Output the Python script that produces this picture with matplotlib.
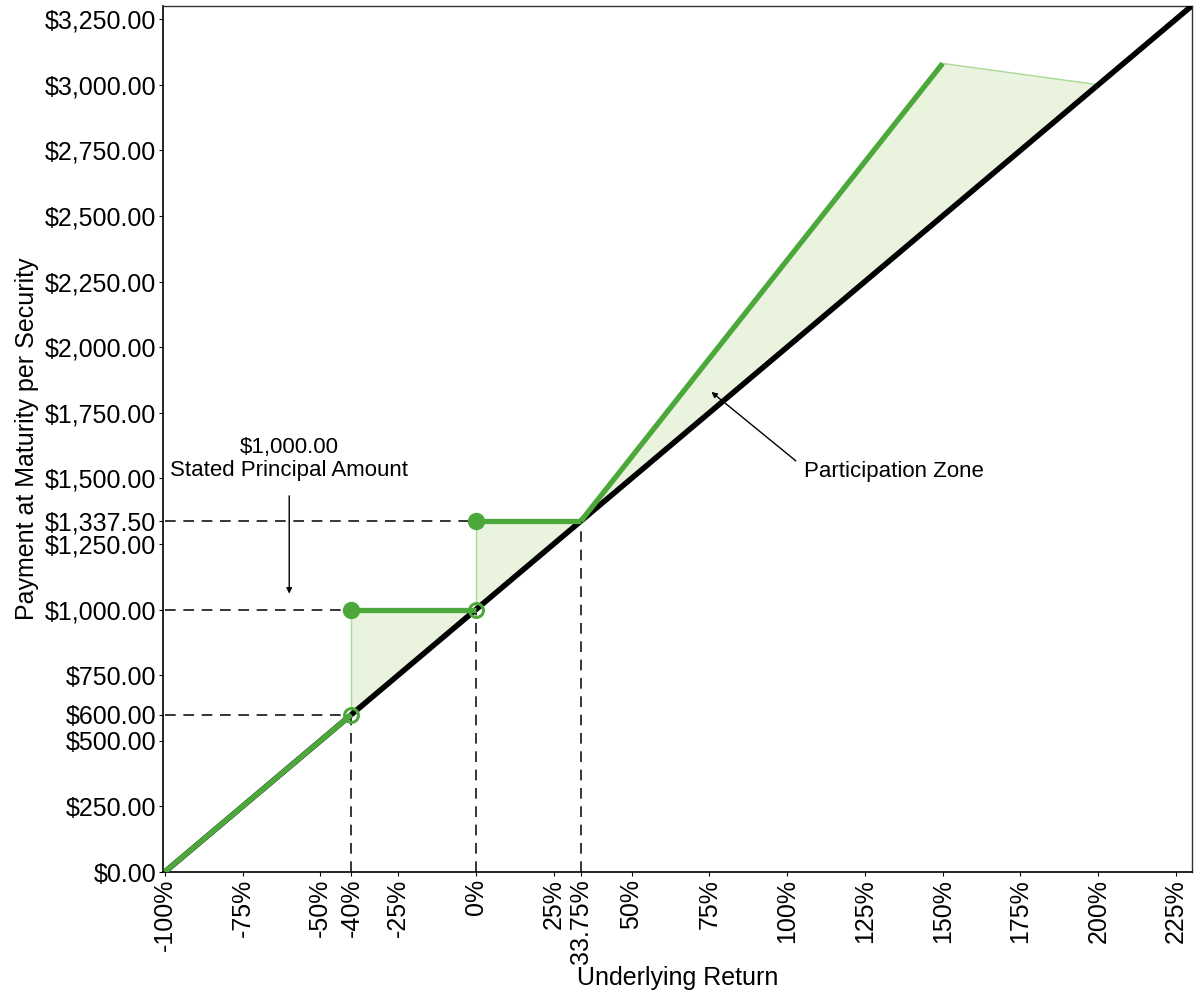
import matplotlib
matplotlib.use("Agg")
import matplotlib.pyplot as plt
from matplotlib.patches import Polygon

plt.rcParams['font.family'] = ['Liberation Sans', 'DejaVu Sans']

# ---- data ----
x_ticks = [-100, -75, -50, -40, -25, 0, 25, 33.75, 50, 75, 100, 125, 150, 175, 200, 225]
x_tick_labels = ["-100%", "-75%", "-50%", "-40%", "-25%", "0%", "25%", "33.75%", "50%",
                 "75%", "100%", "125%", "150%", "175%", "200%", "225%"]
y_ticks = [0, 250, 500, 600, 750, 1000, 1250, 1337.5, 1500, 1750, 2000, 2250, 2500,
           2750, 3000, 3250]
y_tick_labels = ["$0.00", "$250.00", "$500.00", "$600.00", "$750.00", "$1,000.00",
                 "$1,250.00", "$1,337.50", "$1,500.00", "$1,750.00", "$2,000.00",
                 "$2,250.00", "$2,500.00", "$2,750.00", "$3,000.00", "$3,250.00"]

underlying_x = [-100, 230]
underlying_y = [0, 3300]

seg1_x, seg1_y = [-100, -40], [0, 600]
seg2_x, seg2_y = [-40, 0], [1000, 1000]
seg3_x, seg3_y = [0, 33.75], [1337.5, 1337.5]
seg4_x, seg4_y = [33.75, 150], [1337.5, 3081.25]

open_pts_x, open_pts_y = [-40, 0], [600, 1000]
filled_pts_x, filled_pts_y = [-40, 0], [1000, 1337.5]

zone1 = [(-40, 600), (-40, 1000), (0, 1000)]
zone2 = [(0, 1000), (0, 1337.5), (33.75, 1337.5)]
zone3 = [(33.75, 1337.5), (150, 3081.25), (200, 3000)]

# dashed guide lines
h_guides = [(-100, -40, 600), (-100, -40, 1000), (-100, 0, 1337.5)]
v_guides = [(-40, 0, 600), (0, 0, 1000), (33.75, 0, 1337.5)]

GREEN = '#4ca83a'
FILL = '#e9f3de'
EDGE = '#a9d995'

fig = plt.figure(figsize=(12, 10), dpi=100)
ax = fig.add_axes([0.136, 0.128, 0.857, 0.866])

for (x0, x1, y) in h_guides:
    ax.plot([x0, x1], [y, y], color='black', lw=1.1, ls=(0, (7, 5)), zorder=1)
for (x, y0, y1) in v_guides:
    ax.plot([x, x], [y0, y1], color='black', lw=1.1, ls=(0, (7, 5)), zorder=1)

for z in (zone1, zone2, zone3):
    ax.add_patch(Polygon(z, closed=True, facecolor=FILL, edgecolor='none', zorder=2))
ax.plot([zone1[0][0], zone1[1][0]], [zone1[0][1], zone1[1][1]], color=EDGE, lw=1, zorder=2)
ax.plot([zone2[0][0], zone2[1][0]], [zone2[0][1], zone2[1][1]], color=EDGE, lw=1, zorder=2)
ax.plot([zone3[1][0], zone3[2][0]], [zone3[1][1], zone3[2][1]], color=EDGE, lw=1, zorder=2)

ax.plot(underlying_x, underlying_y, color='black', lw=4, zorder=3, solid_capstyle='butt')

for sx, sy in ((seg1_x, seg1_y), (seg2_x, seg2_y), (seg3_x, seg3_y), (seg4_x, seg4_y)):
    ax.plot(sx, sy, color=GREEN, lw=3.8, zorder=4, solid_capstyle='butt')

ax.plot(open_pts_x, open_pts_y, ls='none', marker='o', ms=10, mfc='none',
        mec=GREEN, mew=2.2, zorder=5)
ax.plot(filled_pts_x, filled_pts_y, ls='none', marker='o', ms=11.5, mfc=GREEN,
        mec=GREEN, zorder=5)

ax.set_xlim(-100.5, 230)
ax.set_ylim(0, 3300)
ax.set_xticks(x_ticks)
ax.set_xticklabels(x_tick_labels, rotation=90, fontsize=18)
ax.set_yticks(y_ticks)
ax.set_yticklabels(y_tick_labels, fontsize=18)
ax.tick_params(axis='both', length=3, width=0.8, pad=2)

for s in ('left', 'bottom'):
    ax.spines[s].set_linewidth(1.2)
    ax.spines[s].set_color('black')
for s in ('top', 'right'):
    ax.spines[s].set_linewidth(1.0)
    ax.spines[s].set_color('#333333')

ax.set_xlabel('Underlying Return', fontsize=18, labelpad=2)
ax.set_ylabel('Payment at Maturity per Security', fontsize=18, labelpad=4)

ax.text(-60, 1490, '$1,000.00\nStated Principal Amount', ha='center', va='bottom',
        fontsize=16, linespacing=1.1)
ax.annotate('', xy=(-60, 1050), xytext=(-60, 1444),
            arrowprops=dict(arrowstyle='-|>', color='black', lw=1, mutation_scale=8))

ax.text(105.5, 1525, 'Participation Zone', ha='left', va='center', fontsize=16)
ax.annotate('', xy=(75, 1836), xytext=(103.5, 1560),
            arrowprops=dict(arrowstyle='-|>', color='black', lw=1, mutation_scale=8))

fig.savefig('out.png', dpi=100)
